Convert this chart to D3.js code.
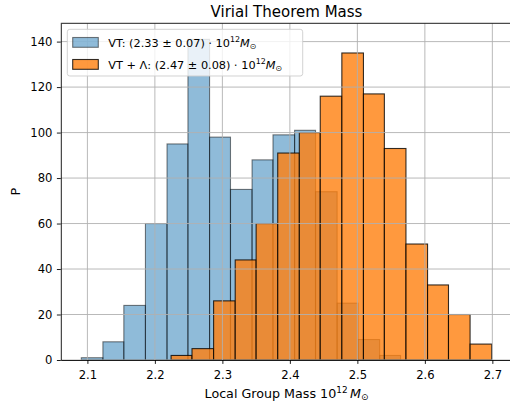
<!DOCTYPE html>
<html lang="en">
<head>
    <meta charset="UTF-8">
    <title>Virial Theorem Mass</title>
    <script src="https://d3js.org/d3.v7.min.js"></script>
    <style>
        body { margin: 0; background: #fff; }
        svg { display: block; font-family: "DejaVu Sans", sans-serif; }
    </style>
</head>
<body>
    <svg width="510" height="403"></svg>

    <script>
        // bin edges and counts
        const vtEdges = [2.091, 2.123, 2.154, 2.186, 2.218, 2.249, 2.281, 2.312, 2.344,
            2.375, 2.407, 2.438, 2.470, 2.501, 2.533, 2.564];
        const vtCounts = [1, 8, 24, 60, 95, 141, 98, 75, 88, 99, 101, 74, 25, 9, 2];

        const lamEdges = [2.224, 2.255, 2.287, 2.319, 2.350, 2.382, 2.414, 2.445, 2.477,
            2.509, 2.540, 2.572, 2.604, 2.635, 2.667, 2.699];
        const lamCounts = [2, 5, 26, 44, 60, 91, 100, 116, 135, 117, 93, 51, 33, 20, 7];

        const xTicks = [2.1, 2.2, 2.3, 2.4, 2.5, 2.6, 2.7];
        const yTicks = [0, 20, 40, 60, 80, 100, 120, 140];

        const svg = d3.select("svg");
        const mLeft = 60.8, mRight = 512.2, mTop = 23.3, mBottom = 360;

        // matplotlib style 5% margins on x, 5% headroom on y
        const allEdges = vtEdges.concat(lamEdges);
        const [xmin, xmax] = d3.extent(allEdges);
        const pad = (xmax - xmin) * 0.05;
        const x = d3.scaleLinear().domain([xmin - pad, xmax + pad]).range([mLeft, mRight]);
        const ymax = d3.max(vtCounts.concat(lamCounts)) * 1.05;
        const y = d3.scaleLinear().domain([0, ymax]).range([mBottom, mTop]);

        const toBins = (edges, counts) => counts.map((c, i) => ({ x0: edges[i], x1: edges[i + 1], c }));

        svg.append("clipPath").attr("id", "plot")
            .append("rect").attr("x", mLeft).attr("y", mTop)
            .attr("width", mRight - mLeft).attr("height", mBottom - mTop);

        const plot = svg.append("g").attr("clip-path", "url(#plot)");

        function drawHist(bins, color, alpha) {
            plot.append("g").selectAll("rect")
                .data(bins)
                .enter()
                .append("rect")
                .attr("x", d => x(d.x0))
                .attr("width", d => x(d.x1) - x(d.x0))
                .attr("y", d => y(d.c))
                .attr("height", d => y(0) - y(d.c))
                .attr("fill", color)
                .attr("fill-opacity", alpha)
                .attr("stroke", "#000")
                .attr("stroke-opacity", alpha)
                .attr("stroke-width", 1.1);
        }

        drawHist(toBins(vtEdges, vtCounts), "#1f77b4", 0.5);
        drawHist(toBins(lamEdges, lamCounts), "#ff7f0e", 0.8);

        // grid sits above the bars
        const grid = plot.append("g").attr("stroke", "#b0b0b0").attr("stroke-width", 0.89);
        grid.selectAll(".gx").data(xTicks).enter().append("line")
            .attr("x1", d => x(d)).attr("x2", d => x(d))
            .attr("y1", mTop).attr("y2", mBottom);
        grid.selectAll(".gy").data(yTicks).enter().append("line")
            .attr("x1", mLeft).attr("x2", mRight)
            .attr("y1", d => y(d)).attr("y2", d => y(d));

        // axes
        const xAxis = d3.axisBottom(x).tickValues(xTicks).tickFormat(d3.format(".1f"))
            .tickSizeInner(3.9).tickSizeOuter(0).tickPadding(6.5);
        const yAxis = d3.axisLeft(y).tickValues(yTicks)
            .tickSizeInner(3.9).tickSizeOuter(0).tickPadding(4.5);

        const gx = svg.append("g").attr("transform", `translate(0,${mBottom})`).call(xAxis);
        const gy = svg.append("g").attr("transform", `translate(${mLeft},0)`).call(yAxis);
        [gx, gy].forEach(g => {
            g.selectAll("text").attr("font-size", 11.6).attr("fill", "#000")
                .attr("font-family", "DejaVu Sans");
            g.selectAll("line").attr("stroke", "#000").attr("stroke-width", 0.89);
            g.select(".domain").attr("stroke", "#000").attr("stroke-width", 0.89);
        });

        // top spine (right one falls outside the picture)
        svg.append("line").attr("x1", mLeft).attr("x2", mRight).attr("y1", mTop).attr("y2", mTop)
            .attr("stroke", "#000").attr("stroke-width", 0.89);

        // title and labels
        const cx = (mLeft + mRight) / 2;
        svg.append("text").attr("x", cx).attr("y", 17).attr("text-anchor", "middle")
            .attr("font-size", 15).text("Virial Theorem Mass");

        const xl = svg.append("text").attr("x", cx).attr("y", 397.5).attr("text-anchor", "middle")
            .attr("font-size", 12.7);
        xl.append("tspan").text("Local Group Mass 10");
        xl.append("tspan").attr("font-size", 8.9).attr("dy", -5).text("12");
        xl.append("tspan").attr("dy", 5).text("\u2009");
        xl.append("tspan").attr("font-style", "italic").text("M");
        xl.append("tspan").attr("font-size", 8.9).attr("dy", 2.2).text("\u2299");

        svg.append("text").attr("transform", `translate(19.5,${(mTop + mBottom) / 2}) rotate(-90)`)
            .attr("text-anchor", "middle").attr("font-size", 12.7).text("P");

        // legend
        const legendItems = [
            { label: "VT: (2.33 \u00b1 0.07)", color: "#1f77b4", alpha: 0.5 },
            { label: "VT + \u039b: (2.47 \u00b1 0.08)", color: "#ff7f0e", alpha: 0.8 }
        ];
        const lg = svg.append("g");
        lg.append("rect").attr("x", 67.3).attr("y", 29.3).attr("width", 235.4).attr("height", 46.7)
            .attr("rx", 2.5).attr("fill", "#fff").attr("fill-opacity", 0.8)
            .attr("stroke", "#cccccc").attr("stroke-width", 0.89);

        legendItems.forEach((d, i) => {
            const yy = 37.5 + i * 22;
            lg.append("rect").attr("x", 72.7).attr("y", yy).attr("width", 25.6).attr("height", 9.8)
                .attr("fill", d.color).attr("fill-opacity", d.alpha)
                .attr("stroke", "#000").attr("stroke-opacity", d.alpha).attr("stroke-width", 1.1);
            const t = lg.append("text").attr("x", 108.3).attr("y", yy + 9.2).attr("font-size", 11.3);
            t.append("tspan").text(d.label + " \u22c5 10");
            t.append("tspan").attr("font-size", 7.9).attr("dy", -4.5).text("12");
            t.append("tspan").attr("font-style", "italic").attr("dy", 4.5).text("M");
            t.append("tspan").attr("font-size", 7.9).attr("dy", 2).text("\u2299");
        });
    </script>
</body>
</html>
